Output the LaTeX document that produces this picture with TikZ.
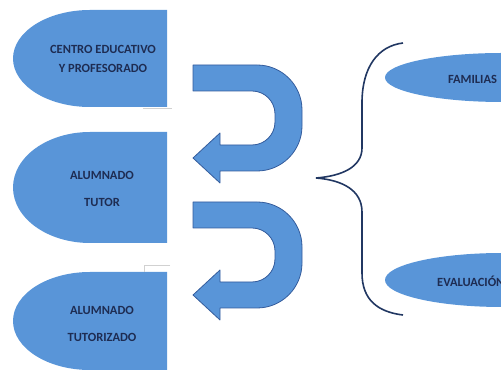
\documentclass[tikz,border=0pt]{standalone}
\usepackage{fontspec}
\setmainfont{Carlito}[BoldFont={Carlito Bold}]
\usepackage{xcolor}
\usepackage{tikz}

\definecolor{azul}{RGB}{89,149,216}
\definecolor{borde}{RGB}{52,92,156}
\definecolor{texto}{RGB}{30,44,82}
\definecolor{llave}{RGB}{33,55,98}

\tikzset{
  caja/.style={fill=azul, draw=none},
  rotulo/.style={text=texto, font=\bfseries\fontsize{12.5}{15}\selectfont, align=center, inner sep=0pt},
  flecha/.style={fill=azul, draw=borde, line width=0.8pt, line join=round},
  marco/.style={draw=black!18, line width=0.6pt}
}

\begin{document}
\begin{tikzpicture}[x=1pt, y=1pt]
				\useasboundingbox (0, 0) rectangle (501, 372);
				\clip (0, 0) rectangle (501, 372);

				% bloques de la izquierda
				\fill[caja] (167, 362) -- (90, 362) arc[start angle=90, end angle=270, x radius=77, y radius=48.5] -- (167, 265) -- cycle;
				\node[rotulo] (centro) at (103, 313) {CENTRO EDUCATIVO\\[4pt]Y PROFESORADO};
				\draw[marco] (143, 263.5) -- (172, 263.5);

				\fill[caja] (167, 240) -- (90, 240) arc[start angle=90, end angle=270, x radius=77, y radius=55.5] -- (167, 129) -- cycle;
				\node[rotulo] (tutor) at (102, 183.5) {ALUMNADO\\[12pt]TUTOR};

				\fill[caja] (167, 100) -- (90, 100) arc[start angle=90, end angle=270, x radius=77, y radius=49] -- (167, 2) -- cycle;
				\node[rotulo] (tutorizado) at (102, 48.5) {ALUMNADO\\[12pt]TUTORIZADO};
				\draw[marco] (170, 107) -- (144, 107) -- (144, 100);

				% flechas en U
				\foreach \dy in {0, 137} {
					\draw[flecha, shift={(0, -\dy)}] (193, 307) -- (257, 307) arc[start angle=90, end angle=0, radius=45] -- (302, 246) arc[start angle=0, end angle=-90, radius=45] -- (220, 201) -- (220, 189) -- (193, 214) -- (220, 239) -- (220, 227) -- (252, 227) arc[start angle=-90, end angle=0, radius=23] -- (275, 258) arc[start angle=0, end angle=90, radius=23] -- (193, 281) -- cycle;
				}

				% llave
				\draw[llave, line width=1.6pt] (403, 329) .. controls (378, 326) and (362, 305) .. (362, 269) -- (362, 224) .. controls (362, 205) and (342, 196) .. (316, 194) .. controls (342, 192) and (362, 182) .. (362, 160) -- (362, 99) .. controls (362, 72) and (378, 60) .. (403, 57);

				% elipses de la derecha
				\fill[caja] (502, 294.5) ellipse[x radius=117, y radius=24.5];
				\node[rotulo] (familias) at (472.5, 293) {FAMILIAS};

				\fill[caja] (502, 92) ellipse[x radius=117, y radius=27];
				\node[rotulo, anchor=west] (evaluacion) at (437, 90.5) {EVALUACIÓN};
			\end{tikzpicture}
\end{document}
